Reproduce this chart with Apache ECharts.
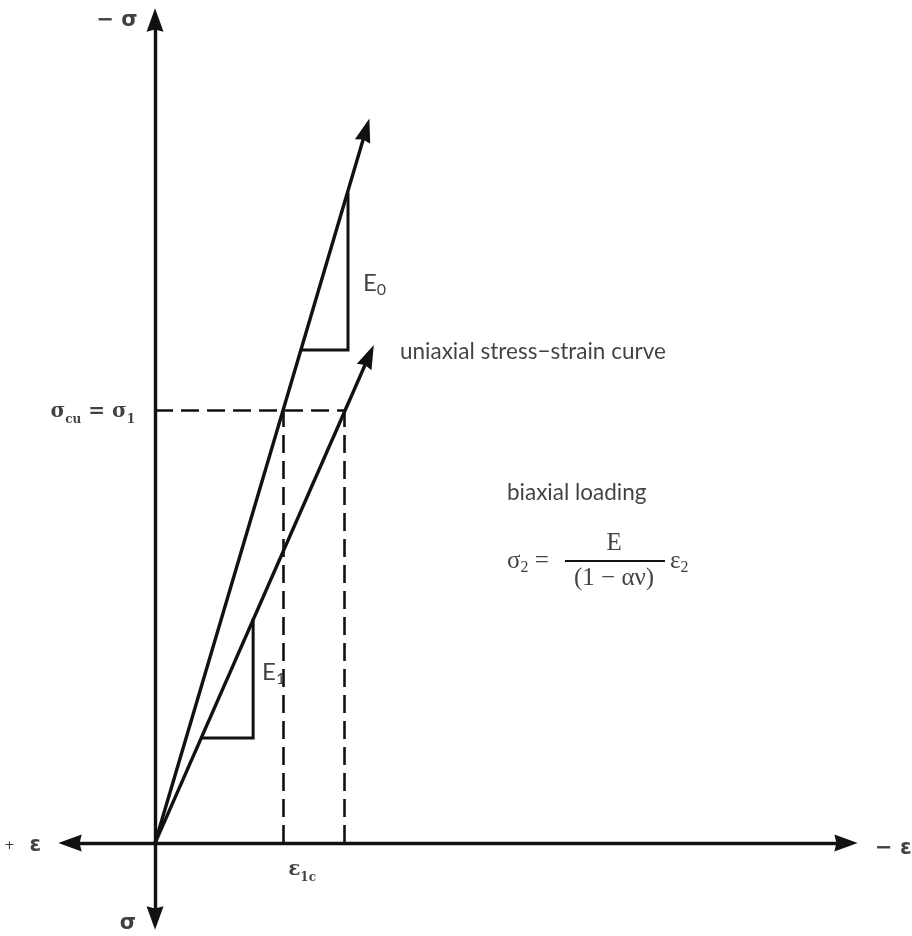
<!DOCTYPE html>
<html>
<head>
<meta charset="utf-8">
<title>Stress–strain diagram</title>
<script src="https://cdn.jsdelivr.net/npm/echarts@6/dist/echarts.min.js"></script>
<style>
  html, body { margin: 0; padding: 0; background: #fff; }
  #chart { width: 912px; height: 936px; }
</style>
</head>
<body>
<div id="chart"></div>
<script>
// Strain (x, compression positive to the right) and stress (y, compression up),
// both normalised: sigma_cu = 1 and eps_1c = 1.
const strainRange = [-0.450, 3.656];
const stressRange = [-0.173, 1.901];

// Initial-modulus line E0 and the uniaxial stress-strain curve (E1)
const lineE0 = [[0, 0], [1.116, 1.647]];
const lineE1 = [[0, 0], [1.132, 1.125]];

// Slope triangles drawn on each line
const triangleE0 = [[0.774, 1.139], [1.021, 1.139], [1.021, 1.502]];
const triangleE1 = [[0.243, 0.243], [0.519, 0.243], [0.519, 0.519]];

// Reference levels
const sigmaCu = 1.0;
const strainE0AtSigmaCu = 0.68;
const eps1c = 1.0;

const ink = '#111';
const axisFont = 'DejaVu Sans';
const textFont = 'Lato';
const mathFont = 'Liberation Serif';

const chart = echarts.init(document.getElementById('chart'), null, { renderer: 'canvas' });

function seg(coords) { return { coords: coords }; }

// Text placed in data coordinates
const labels = [
  { value: [-0.201, 1.900], text: '{b|− σ}', align: 'center' },
  { value: [-0.143, -0.185], text: '{b|σ}', align: 'center' },
  { value: [-0.603, -0.005], text: '{p|+}{b|  ε}', align: 'right' },
  { value: [3.81, -0.012], text: '{b|− ε}', align: 'left' },
  { value: [0.778, -0.062], text: '{g|ε}{gs|1c}', align: 'center' },
  { value: [-0.106, 0.995], text: '{g|σ}{gs|cu}{g| = σ}{gs|1}', align: 'right' },
  { value: [1.10, 1.293], text: '{e|E}{es|0}', align: 'left' },
  { value: [0.566, 0.395], text: '{e|E}{es|1}', align: 'left' },
  { value: [1.296, 1.134], text: '{t|uniaxial stress−strain curve}', align: 'left' },
  { value: [1.862, 0.808], text: '{t|biaxial loading}', align: 'left' },
  { value: [1.862, 0.651], text: '{m|σ}{ms|2}{m| =}', align: 'left' },
  { value: [2.429, 0.693], text: '{m|E}', align: 'center' },
  { value: [2.429, 0.612], text: '{m|(1 − αν)}', align: 'center' },
  { value: [2.725, 0.651], text: '{m|ε}{ms|2}', align: 'left' }
];
const fractionBar = [[2.169, 0.651], [2.698, 0.651]];

const rich = {
  b: { fontFamily: axisFont, fontWeight: 'bold', fontSize: 21, color: ink, lineHeight: 26 },
  p: { fontFamily: axisFont, fontSize: 13, color: ink, lineHeight: 26 },
  g: { fontFamily: 'DejaVu Serif', fontWeight: 'bold', fontSize: 20, color: ink, lineHeight: 28 },
  gs: { fontFamily: 'DejaVu Serif', fontWeight: 'bold', fontSize: 12, color: ink, lineHeight: 15, verticalAlign: 'bottom' },
  t: { fontFamily: textFont, fontSize: 22.5, color: ink, lineHeight: 28 },
  e: { fontFamily: textFont, fontSize: 24, color: ink, lineHeight: 30 },
  es: { fontFamily: textFont, fontSize: 16, color: ink, lineHeight: 18, verticalAlign: 'bottom' },
  m: { fontFamily: mathFont, fontSize: 25, color: ink, lineHeight: 30 },
  ms: { fontFamily: mathFont, fontSize: 16, color: ink, lineHeight: 18, verticalAlign: 'bottom' }
};

// Solid arrowhead with a shallow notch at its base
const arrowHead = 'path://M8,0 L16,22 L8,20 L0,22 Z';

const option = {
  animation: false,
  backgroundColor: '#fff',
  grid: { left: 70, right: 66, top: 20, bottom: 18 },
  xAxis: {
    type: 'value', min: strainRange[0], max: strainRange[1],
    axisLine: { onZero: true, symbol: [arrowHead, arrowHead], symbolSize: [17, 24],
      lineStyle: { color: ink, width: 3.4 } },
    axisTick: { show: false }, axisLabel: { show: false }, splitLine: { show: false }
  },
  yAxis: {
    type: 'value', min: stressRange[0], max: stressRange[1],
    axisLine: { onZero: true, symbol: [arrowHead, arrowHead], symbolSize: [17, 24],
      lineStyle: { color: ink, width: 3.4 } },
    axisTick: { show: false }, axisLabel: { show: false }, splitLine: { show: false }
  },
  series: [
    {
      name: 'E0', type: 'lines', coordinateSystem: 'cartesian2d', silent: true,
      symbol: ['none', arrowHead], symbolSize: [[16, 24], [16, 24]],
      lineStyle: { color: ink, width: 3.4, opacity: 1 },
      data: [seg(lineE0)]
    },
    {
      name: 'uniaxial', type: 'lines', coordinateSystem: 'cartesian2d', silent: true,
      symbol: ['none', arrowHead], symbolSize: [[16, 24], [16, 24]],
      lineStyle: { color: ink, width: 3.4, opacity: 1 },
      data: [seg(lineE1)]
    },
    {
      name: 'triangles', type: 'lines', coordinateSystem: 'cartesian2d', polyline: true, silent: true,
      symbol: 'none',
      lineStyle: { color: ink, width: 3, opacity: 1 },
      data: [seg(triangleE0), seg(triangleE1)]
    },
    {
      name: 'guides', type: 'lines', coordinateSystem: 'cartesian2d', silent: true,
      symbol: 'none',
      lineStyle: { color: ink, width: 2.6, type: [18, 8], opacity: 1 },
      data: [
        seg([[0, sigmaCu], [eps1c, sigmaCu]]),
        seg([[strainE0AtSigmaCu, 0], [strainE0AtSigmaCu, sigmaCu]]),
        seg([[eps1c, 0], [eps1c, sigmaCu]])
      ]
    },
    {
      name: 'fraction', type: 'lines', coordinateSystem: 'cartesian2d', silent: true,
      symbol: 'none',
      lineStyle: { color: ink, width: 1.8, opacity: 1 },
      data: [seg(fractionBar)]
    },
    {
      name: 'text', type: 'scatter', clip: false, silent: true,
      symbolSize: 0,
      data: labels.map(l => ({
        value: l.value,
        label: {
          show: true, position: 'inside', formatter: l.text, rich: rich,
          align: l.align, verticalAlign: 'middle'
        }
      }))
    }
  ]
};

chart.setOption(option);
</script>
</body>
</html>
